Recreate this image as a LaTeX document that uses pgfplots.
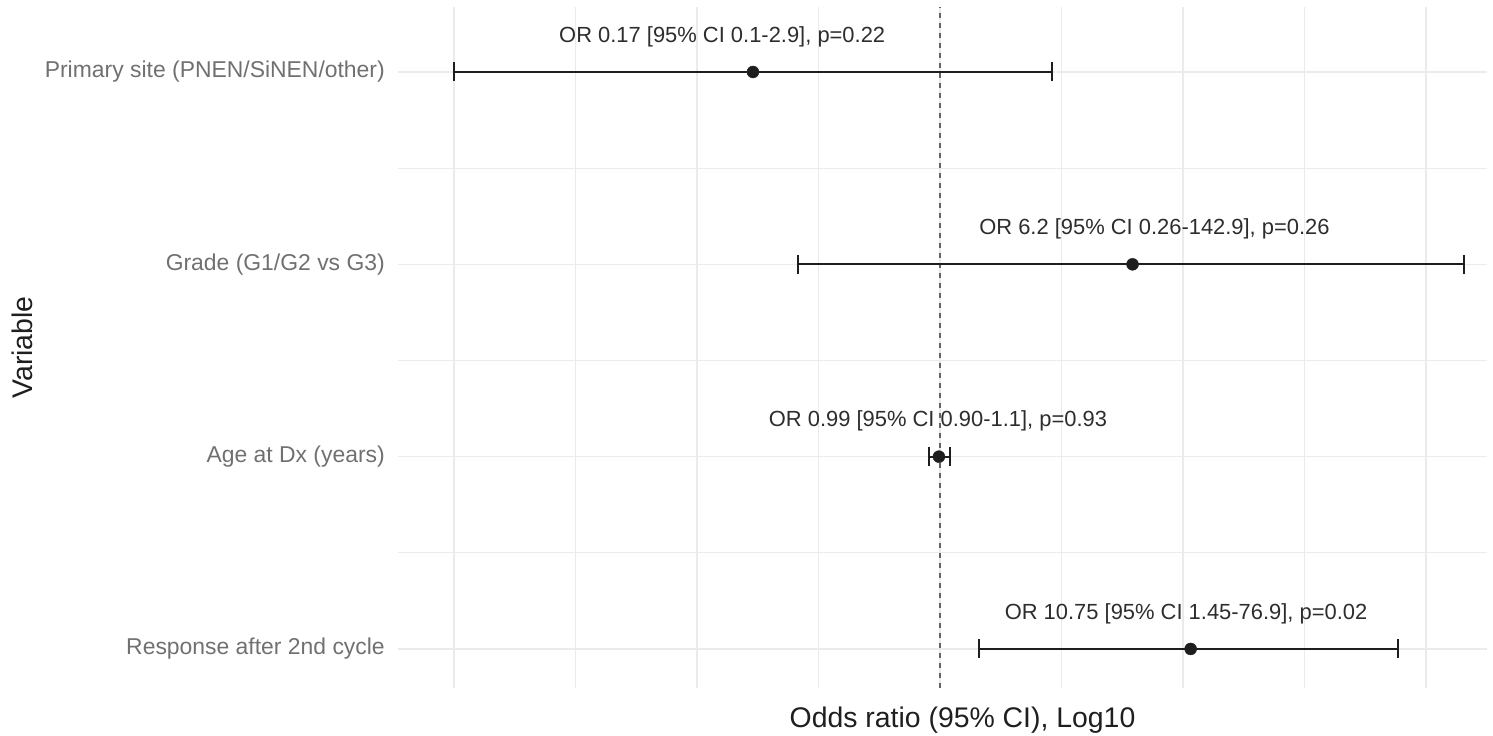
\documentclass[border=0pt]{standalone}
\usepackage{pgfplots}
\pgfplotsset{compat=1.18}
\usepackage{fontspec}
\setmainfont{Liberation Sans}
\definecolor{gridc}{RGB}{235,235,235}
\definecolor{tickc}{RGB}{112,112,112}
\definecolor{annc}{RGB}{45,45,45}
\definecolor{dashc}{RGB}{100,100,100}
\definecolor{barc}{RGB}{30,30,30}
\begin{document}
\begin{tikzpicture}
\path[use as bounding box] (-398bp,-48bp) rectangle (1095bp,688bp);
\begin{axis}[
 scale only axis, width=1089bp, height=681bp,
 xmode=log, xmin=0.005884, xmax=178.2,
 ymin=0.797, ymax=4.338,
 xtick={0.01,0.0316228,0.1,0.316228,1,3.16228,10,31.6228,100},
 xticklabel=\empty,
 ytick={1,2,3,4},
 yticklabels={Response after 2nd cycle, Age at Dx (years), Grade (G1/G2 vs G3), Primary site (PNEN/SiNEN/other)},
 minor ytick={1.5,2.5,3.5},
 xmajorgrids, ymajorgrids, yminorgrids,
 grid style={gridc, line width=1.3bp},
 minor grid style={gridc, line width=1.3bp},
 axis line style={draw=none},
 major tick length=0pt, minor tick length=0pt,
 tick style={draw=none},
 yticklabel style={font=\fontsize{23}{27}\selectfont, text=tickc, anchor=east, inner sep=0pt, xshift=-13bp},
 xlabel={Odds ratio (95\% CI), Log10},
 ylabel={Variable},
 every axis x label/.style={at={(axis description cs:0.5184,-0.0573)}, anchor=base, font=\fontsize{28.5}{34}\selectfont, text=black!88},
 every axis y label/.style={at={(axis description cs:-0.3453,0.5)}, rotate=90, anchor=center, font=\fontsize{28.5}{34}\selectfont, text=black!88},
 clip=false,
]
\addplot[dashc, line width=1.3bp, dash pattern=on 5bp off 5bp] coordinates {(1,0.797) (1,4.338)};
\addplot[barc, line width=1.8bp, mark=|, mark size=9.5bp, mark options={solid, line width=1.8bp}] coordinates {(0.01,4) (2.9,4)};
\addplot[barc, line width=1.8bp, mark=|, mark size=9.5bp, mark options={solid, line width=1.8bp}] coordinates {(0.26,3) (142.9,3)};
\addplot[barc, line width=1.8bp, mark=|, mark size=9.5bp, mark options={solid, line width=1.8bp}] coordinates {(0.90,2) (1.1,2)};
\addplot[barc, line width=1.8bp, mark=|, mark size=9.5bp, mark options={solid, line width=1.8bp}] coordinates {(1.45,1) (76.9,1)};
\addplot[only marks, mark=*, mark size=6bp, barc] coordinates {(0.17,4) (6.2,3) (0.99,2) (10.75,1)};
\node[font=\fontsize{22}{26}\selectfont, text=annc] at (axis cs:0.127,4.185) {OR 0.17 [95\% CI 0.1-2.9], p=0.22};
\node[font=\fontsize{22}{26}\selectfont, text=annc] at (axis cs:7.63,3.185) {OR 6.2 [95\% CI 0.26-142.9], p=0.26};
\node[font=\fontsize{22}{26}\selectfont, text=annc] at (axis cs:0.981,2.185) {OR 0.99 [95\% CI 0.90-1.1], p=0.93};
\node[font=\fontsize{22}{26}\selectfont, text=annc] at (axis cs:10.29,1.185) {OR 10.75 [95\% CI 1.45-76.9], p=0.02};
\end{axis}
\end{tikzpicture}
\end{document}
